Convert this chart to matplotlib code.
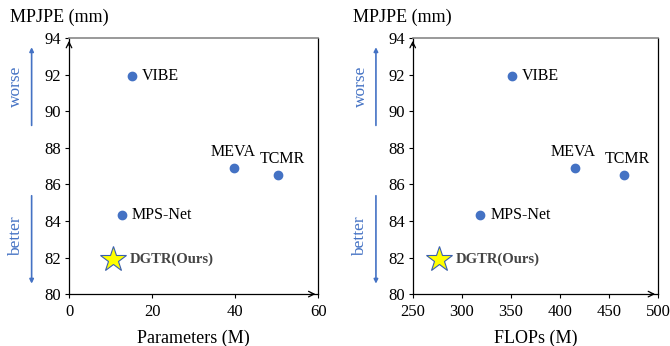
import matplotlib.pyplot as plt

plt.rcParams['font.family'] = 'Liberation Serif'

# colours
blue_dot = '#4472C4'
blue_txt = '#4472C4'
star_col = '#FFFF00'
star_edge = '#3A5FB0'
top_gray = '#888888'

# data
methods = ["VIBE", "MEVA", "TCMR", "MPS-Net"]
mpjpe = [91.9, 86.9, 86.5, 84.3]
params = [15.2, 39.8, 50.4, 12.7]
flops = [351, 415, 465, 319]

ours_name = "DGTR(Ours)"
ours_mpjpe = 81.9
ours_params = 10.7
ours_flops = 277

# label offsets (points) per method
offsets = {
    "VIBE": (7, 0, 'left', 'center'),
    "MEVA": (-1, 6, 'center', 'bottom'),
    "TCMR": (3, 6, 'center', 'bottom'),
    "MPS-Net": (7, 0, 'left', 'center'),
}


def draw_panel(ax, xs, ox, xlim, xticks, xlabel, tx):
    ax.plot(xs, mpjpe, 'o', color=blue_dot, markersize=6, zorder=3)
    for name, x, y in zip(methods, xs, mpjpe):
        dx, dy, ha, va = offsets[name]
        ax.annotate(name, (x, y), xytext=(dx, dy), textcoords='offset points',
                    ha=ha, va=va, fontsize=11.5)
    ax.plot([ox], [ours_mpjpe], '*', color=star_col, markeredgecolor=star_edge,
            markeredgewidth=0.8, markersize=19, zorder=4)
    ax.annotate(ours_name, (ox, ours_mpjpe), xytext=(12, 0), textcoords='offset points',
                ha='left', va='center', fontsize=10.5, fontweight='bold', color='#444444')

    ax.set_xlim(*xlim)
    ax.set_ylim(80, 94)
    ax.set_xticks(xticks)
    ax.set_yticks(range(80, 95, 2))
    ax.tick_params(labelsize=12, length=3, width=0.8, pad=2.5, direction='out')
    ax.tick_params(axis='x', pad=4)
    ax.set_xlabel(xlabel, fontsize=13, labelpad=7)

    ax.spines['top'].set_color(top_gray)
    ax.spines['top'].set_linewidth(1.2)
    for s in ['left', 'bottom', 'right']:
        ax.spines[s].set_linewidth(0.9)

    # arrow heads on axes
    ax.annotate('', xy=(1.0, 0), xytext=(0.96, 0), xycoords='axes fraction',
                arrowprops=dict(arrowstyle='->', lw=0.9, color='black'))
    ax.annotate('', xy=(0, 1.0), xytext=(0, 0.96), xycoords='axes fraction',
                arrowprops=dict(arrowstyle='->', lw=0.9, color='black'))

    ax.text(tx, 1.082, "MPJPE (mm)", transform=ax.transAxes, ha='left', va='center',
            fontsize=13)

    # worse / better indicators
    ax_x = -0.15
    ax.annotate('', xy=(ax_x, 0.975), xytext=(ax_x, 0.648), xycoords='axes fraction',
                arrowprops=dict(arrowstyle='-|>', lw=1.2, color=blue_txt, mutation_scale=6))
    ax.annotate('', xy=(ax_x, 0.03), xytext=(ax_x, 0.395), xycoords='axes fraction',
                arrowprops=dict(arrowstyle='-|>', lw=1.2, color=blue_txt, mutation_scale=6))
    ax.text(-0.212, 0.812, "worse", transform=ax.transAxes, rotation=90,
            ha='center', va='center', color=blue_txt, fontsize=12.5)
    ax.text(-0.214, 0.225, "better", transform=ax.transAxes, rotation=90,
            ha='center', va='center', color=blue_txt, fontsize=12.5)


fig = plt.figure(figsize=(6.7, 3.46), dpi=100)
ax1 = fig.add_axes([0.103, 0.150, 0.372, 0.740])
ax2 = fig.add_axes([0.616, 0.150, 0.366, 0.740])

draw_panel(ax1, params, ours_params, (0, 60), [0, 20, 40, 60], "Parameters (M)", -0.237)
draw_panel(ax2, flops, ours_flops, (250, 500), [250, 300, 350, 400, 450, 500], "FLOPs (M)", -0.244)

fig.savefig('out.png', dpi=100)
